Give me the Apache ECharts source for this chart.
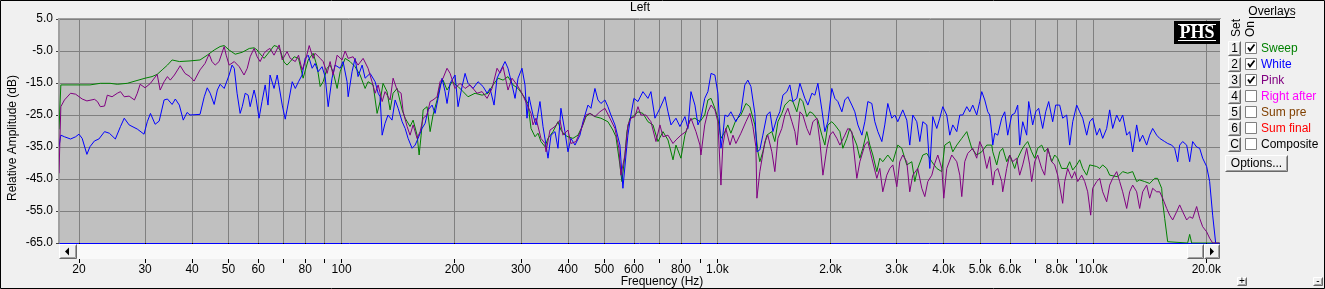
<!DOCTYPE html>
<html><head><meta charset="utf-8">
<script src="https://cdn.jsdelivr.net/npm/echarts@6/dist/echarts.min.js"></script>
<style>html,body{margin:0;padding:0;background:#f0f0f0;}#c{width:1325px;height:289px;}</style>
</head><body><div id="c"></div>
<script>
// ---------- data (frequency in Hz, level in dB) ----------
const sweep = [[17.7,-29.5],[17.9,-15.6],[21.4,-15.6],[22.8,-15.1],[24.2,-15.1],[25.3,-15.4],[26.9,-15.1],[28.2,-14.4],[30.0,-13.5],[31.3,-13.0],[32.3,-12.3],[33.3,-10.9],[34.4,-9.4],[35.4,-7.8],[37.0,-8.3],[39.5,-8.1],[42.0,-7.8],[43.9,-6.3],[45.8,-4.7],[47.5,-3.6],[48.7,-3.3],[50.2,-4.7],[52.1,-6.0],[54.4,-5.4],[56.8,-4.2],[58.5,-4.0],[59.6,-4.7],[60.3,-5.5],[62.2,-7.3],[64.5,-5.0],[66.1,-3.3],[67.4,-3.6],[68.6,-4.7],[70.3,-8.5],[71.6,-9.4],[73.0,-8.3],[74.8,-6.8],[75.3,-6.3],[76.8,-7.3],[79.0,-13.5],[81.5,-7.8],[84.0,-5.7],[86.1,-9.9],[87.7,-16.1],[89.3,-14.6],[91.5,-10.4],[93.2,-9.4],[94.9,-11.5],[97.3,-16.7],[99.1,-11.5],[102.2,-7.3],[105.3,-8.3],[108.6,-9.9],[112,-12.5],[115.5,-16.7],[117.6,-14.6],[121.3,-15.6],[124.3,-24.5],[126.6,-20.8],[128.9,-15.1],[132.1,-17.7],[134.6,-23.4],[137.1,-18.2],[140.5,-16.7],[144.9,-23.4],[147.6,-26],[152.1,-28.6],[155.0,-26.6],[158.8,-31.3],[160.8,-37.5],[162.8,-31.3],[164.8,-23.4],[168.8,-22.4],[172.0,-30.2],[175.1,-25],[179.5,-20.3],[182.8,-15.6],[186.2,-14.1],[190.8,-17.2],[196.8,-14.6],[204.1,-16.1],[210.5,-17.7],[217.0,-19.3],[226.5,-18.2],[236.5,-18.8],[245.3,-18.2],[252.9,-15.6],[260.8,-13.5],[268.9,-14.1],[277.2,-13.0],[285.9,-15.6],[294.8,-16.7],[303.9,-18.8],[313.3,-21.4],[319.2,-29.2],[327.1,-31.8],[333.1,-30.7],[339.2,-33.3],[347.7,-34.9],[354.2,-32.3],[365.2,-30.2],[376.5,-27.1],[383.4,-29.7],[392.9,-31.3],[400.3,-31.8],[412.6,-32.3],[425.6,-31.3],[438.8,-28.1],[447.0,-25.5],[458.1,-24.5],[472.2,-25.5],[489.8,-26.0],[511.3,-27.1],[527.2,-29.7],[537.1,-31.8],[550.3,-40.6],[557.1,-45.8],[567.5,-37.5],[574.4,-30.2],[585.1,-26.0],[596,-25.5],[614.6,-24.0],[633.7,-24.5],[653.4,-27.1],[673.8,-28.1],[694.8,-33.3],[716.5,-30.2],[738.8,-32.8],[761.8,-39],[775.8,-34.4],[799.8,-38.5],[819.6,-31.3],[845.3,-26.6],[871.4,-26],[898.6,-27.1],[925.3,-25],[943.5,-20.3],[961.9,-19.8],[984.8,-22.9],[1003,-26],[1022,-32.3],[1047,-30.2],[1066,-28.1],[1086,-30.7],[1120,-26.6],[1155,-25],[1191,-21.4],[1220,-22.4],[1258,-28.1],[1282,-36.5],[1297,-39.6],[1321,-36.5],[1354,-31.3],[1396,-30.2],[1422,-33.3],[1449,-27.1],[1484,-24.5],[1512,-21.9],[1559,-20.3],[1588,-20.8],[1627,-24.0],[1658,-19.8],[1688,-20.8],[1730,-25.5],[1762,-24],[1795,-24.5],[1851,-26.6],[1897,-31.3],[1932,-34.4],[1968,-28.1],[2016,-27.1],[2054,-28.1],[2118,-30.2],[2157,-35.4],[2210,-32.3],[2251,-29.2],[2293,-31.3],[2350,-34.4],[2394,-38.5],[2438,-35.4],[2498,-30.2],[2545,-34.4],[2592,-37.5],[2656,-42.7],[2705,-38.5],[2755,-39.6],[2841,-37.5],[2930,-39.6],[3020,-34.4],[3095,-35.4],[3191,-40.6],[3291,-39.6],[3352,-45.8],[3413,-41.7],[3521,-37.5],[3608,-37],[3720,-39.6],[3835,-41.7],[3955,-42.7],[4028,-34.4],[4153,-33.3],[4230,-36.5],[4335,-34.4],[4470,-32.3],[4609,-30.2],[4752,-35.4],[4899,-37.5],[5052,-36.5],[5210,-34.4],[5372,-34.4],[5405,-36.5],[5538,-40.6],[5640,-36.5],[5745,-35.4],[5887,-39.6],[5996,-37.5],[6182,-41.7],[6297,-38.5],[6453,-35.9],[6573,-34.4],[6695,-33.3],[6861,-36.5],[6988,-38.5],[7117,-35.4],[7294,-34.4],[7429,-36.5],[7567,-35.4],[7755,-39.6],[7898,-37.5],[8045,-38.5],[8244,-41.7],[8501,-41.7],[8659,-39.6],[8822,-42.2],[9039,-40.6],[9207,-39.0],[9377,-41.7],[9610,-43.8],[9788,-40.6],[10217,-41.1],[10406,-41.7],[10599,-40.6],[10862,-41.7],[11063,-43.8],[11619,-44.3],[11981,-42.7],[12354,-43.2],[12737,-42.7],[13053,-45.8],[13295,-45.3],[13709,-45.8],[14135,-46.4],[14575,-44.8],[14840,-44.8],[15214,-47.9],[15307,-52.1],[15497,-57.3],[15785,-64.6],[15979,-65],[17840,-65],[18061,-62.3],[18283,-65],[21700,-65]];

const white = [[17.7,-34.9],[17.9,-31.3],[18.3,-31.8],[19.0,-32.5],[19.6,-31.8],[20.0,-31.0],[20.4,-32.3],[21.0,-37.3],[21.4,-34.9],[22.0,-33.1],[22.6,-32.5],[23.4,-30.2],[24.1,-30.7],[25.0,-32.5],[25.8,-28.6],[26.4,-26.0],[27.2,-28.1],[28.6,-29.4],[29.8,-31.0],[30.4,-27.1],[31.0,-24.5],[31.9,-27.9],[32.7,-26.9],[33.7,-20.3],[34.4,-20.0],[35.4,-21.7],[36.1,-20.0],[37.0,-21.9],[37.9,-26.6],[38.8,-24.2],[39.5,-25.0],[42.0,-24.8],[43.1,-19.3],[43.9,-16.5],[44.7,-18.2],[45.8,-21.7],[46.7,-17.2],[47.5,-15.4],[48.7,-16.7],[50.2,-12.5],[51.1,-9.4],[51.8,-10.4],[52.7,-18.2],[53.7,-24.5],[54.4,-22.4],[55.4,-18.2],[56.4,-18.8],[57.1,-22.4],[58.5,-17.2],[59.2,-19.8],[60.3,-26.0],[61.4,-20.8],[62.6,-15.6],[63.7,-21.9],[64.5,-12.5],[66.1,-16.7],[67.4,-12.5],[69.5,-21.9],[70.8,-26.3],[72.4,-20.3],[73.9,-14.6],[75.3,-16.7],[76.8,-14.6],[78.5,-12.5],[80.0,-7.3],[81.5,-6.3],[83.5,-10.4],[85.0,-8.9],[86.6,-11.5],[88.7,-9.9],[90.4,-13.0],[92.1,-22.4],[94.3,-13.5],[96.1,-9.4],[99.1,-10.4],[100.9,-8.3],[103.4,-14.6],[104.1,-19.3],[106.6,-11.5],[108.6,-7.3],[110.6,-13.0],[113.4,-9.4],[115.5,-13.5],[119.1,-12],[122.8,-14.6],[125.1,-18.2],[126.6,-19.3],[128.2,-31.3],[130.5,-27.6],[132.9,-25],[136.2,-26.6],[138.8,-20.3],[141.4,-22.9],[144.9,-27.1],[147.6,-29.2],[150.3,-32.3],[154.0,-35.4],[156.9,-34.4],[159.8,-32.3],[163.7,-29.2],[166.8,-27.6],[169.9,-23.4],[174.1,-21.9],[177.3,-24.5],[180.6,-19.8],[185.1,-13.5],[188.5,-17.7],[190.8,-21.4],[194.4,-15.1],[200.4,-12.5],[204.1,-22.4],[209.2,-16.1],[213.1,-12.0],[217.0,-15.1],[223.7,-16.7],[230.7,-14.6],[237.9,-16.1],[243.8,-18.2],[248.3,-16.7],[254.5,-21.9],[259.2,-13.5],[264.0,-11.5],[272.2,-8.3],[277.2,-10.4],[284.1,-15.6],[289.4,-19.8],[294.8,-13.5],[302.0,-10.4],[307.6,-15.6],[311.4,-26.0],[315.3,-19.3],[323.1,-25],[329.1,-28.1],[337.2,-20.8],[343.5,-28.6],[349.9,-34.4],[354.2,-38.5],[360.8,-31.3],[369.7,-30.2],[376.5,-35.4],[383.4,-22.9],[392.9,-30.2],[400.3,-36.5],[407.6,-32.3],[417.9,-34.4],[430.8,-31.3],[438.8,-27.1],[452.5,-21.9],[460.8,-22.9],[472.2,-16.7],[481,-20.3],[489.8,-21.4],[502.0,-20.3],[511.3,-22.4],[520.8,-25],[533.8,-28.1],[550.3,-34.4],[560.5,-47.9],[571.1,-37.5],[577.9,-31.3],[588.7,-25],[599.6,-19.8],[614.6,-20.8],[633.7,-17.7],[653.4,-19.8],[665.5,-17.7],[682.1,-26],[703.2,-22.9],[725.4,-19.3],[738.8,-24],[752.5,-28.1],[775.8,-26],[794.9,-28.6],[819.6,-25.5],[834.9,-29.2],[850.5,-17.7],[871.4,-21.9],[887.7,-28.1],[904.0,-26],[925.3,-19.8],[943.5,-17.7],[961.9,-12],[984.8,-12.5],[1003,-18.2],[1022,-35.4],[1034,-31.3],[1047,-25],[1066,-25.5],[1086,-24],[1120,-27.1],[1155,-24],[1183,-15.6],[1205,-14.1],[1228,-16.1],[1258,-24.5],[1274,-36.5],[1297,-35.9],[1321,-31.3],[1354,-25],[1380,-24],[1405,-30.2],[1440,-26],[1466,-24],[1494,-18.8],[1531,-17.7],[1559,-15.6],[1588,-20.8],[1627,-19.8],[1658,-15.1],[1678,-14.6],[1709,-19.8],[1741,-21.9],[1784,-18.2],[1817,-18.8],[1851,-15.1],[1897,-23.4],[1932,-30.2],[1968,-27.1],[2016,-16.7],[2054,-19.8],[2092,-20.8],[2144,-24],[2183,-20.3],[2224,-19.3],[2279,-21.9],[2321,-24],[2365,-28.1],[2424,-31.3],[2468,-27.1],[2514,-20.8],[2576,-21.4],[2624,-27.1],[2673,-30.2],[2739,-33.3],[2789,-28.1],[2841,-21.4],[2911,-26],[2966,-25],[3020,-27.1],[3114,-23.4],[3191,-26.6],[3250,-34.4],[3311,-25],[3393,-27.1],[3456,-33.3],[3521,-27.1],[3608,-28.1],[3675,-41.7],[3743,-25.5],[3835,-29.2],[3906,-26],[3979,-22.4],[4077,-25],[4153,-31.3],[4230,-28.1],[4335,-30.2],[4416,-25],[4497,-25],[4609,-22.4],[4694,-24],[4781,-21.9],[4899,-25],[4990,-20.8],[5052,-17.7],[5146,-20.3],[5242,-24],[5306,-25],[5372,-30.7],[5405,-34.4],[5470,-30.7],[5572,-31.3],[5710,-26],[5815,-24],[5923,-31.3],[6069,-25],[6182,-24.5],[6297,-21.9],[6374,-34.4],[6494,-27.1],[6654,-31.3],[6736,-20.8],[6902,-28.1],[7031,-24],[7161,-22.9],[7338,-29.2],[7475,-24],[7614,-20.8],[7802,-27.1],[7947,-21.9],[8144,-21.9],[8295,-26],[8501,-25],[8659,-34.4],[8822,-27.1],[9039,-21.9],[9207,-24],[9377,-26],[9610,-31.3],[9788,-27.1],[9969,-26],[10217,-31.3],[10406,-29.2],[10599,-32.3],[10862,-29.2],[11063,-23.4],[11269,-29.2],[11548,-25],[11763,-27.1],[11981,-25],[12278,-31.3],[12505,-30.2],[12737,-36.5],[13053,-28.1],[13295,-33.3],[13541,-31.3],[13878,-34.4],[14135,-31.3],[14397,-29.2],[14755,-31.3],[15029,-32.3],[15497,-33.3],[15785,-33.9],[16176,-34.4],[16475,-35.4],[16780,-39.6],[16987,-34.4],[17302,-33.3],[17732,-34.4],[18061,-39.6],[18395,-33.3],[18851,-35],[19202,-35.4],[19558,-38.5],[20042,-41.1],[20414,-45.8],[20793,-56.3],[21179,-65]];

const pink = [[17.7,-43.2],[17.9,-22.4],[18.3,-20.3],[19.0,-18.2],[19.6,-18.5],[20.4,-20.0],[21.0,-20.6],[22.0,-20.1],[22.4,-20.8],[22.8,-22.4],[23.4,-22.2],[23.8,-18.8],[24.5,-19.3],[25.3,-18.2],[25.8,-17.7],[26.4,-19.3],[27.2,-19.1],[28.1,-20.3],[28.6,-18.2],[29.1,-15.4],[30.0,-16.5],[31.0,-15.1],[32.3,-12.3],[32.9,-17.2],[33.7,-14.6],[34.4,-13.0],[35.0,-14.1],[35.9,-12.5],[37.2,-9.6],[38.3,-12.0],[39.5,-13.0],[40.5,-14.4],[41.3,-12.5],[42.0,-10.9],[43.3,-8.9],[44.4,-6.0],[45.2,-8.3],[46.1,-9.4],[47.2,-8.3],[48.7,-3.6],[49.3,-6.3],[50.2,-9.4],[51.8,-8.3],[53.4,-9.9],[55.0,-12.5],[56.1,-10.4],[57.1,-6.8],[58.5,-4.2],[59.6,-6.8],[60.7,-8.3],[62.2,-5.7],[63.4,-4.7],[64.5,-4.2],[66.1,-6.3],[68.2,-3.1],[69.5,-7.8],[71.6,-5.2],[73.0,-7.3],[75.3,-8.3],[76.8,-6.3],[78.5,-10.9],[80.0,-8.3],[82.0,-3.3],[84.0,-7.3],[85.0,-5.7],[87.7,-7.3],[89.3,-8.3],[91.5,-12.0],[93.2,-8.3],[94.9,-12.5],[97.3,-6.3],[100.3,-7.8],[102.2,-5.0],[104.1,-7.3],[107.3,-6.8],[110.6,-9.4],[114.1,-7.3],[117.6,-10.4],[120.5,-14.6],[122.8,-18.2],[125.1,-15.6],[128.2,-20.8],[130.5,-17.7],[134.6,-20.3],[137.1,-13.5],[140.5,-17.2],[144.0,-18.2],[145.8,-24.0],[149.4,-28.6],[152.1,-31.3],[155.0,-28.1],[158.8,-32.3],[161.8,-30.2],[164.8,-26.0],[168.8,-25.0],[172.0,-20.8],[175.1,-20.3],[179.5,-19.3],[182.8,-14.6],[186.2,-13.5],[190.8,-10.4],[194.4,-12.0],[200.4,-16.7],[206.6,-15.1],[213.1,-16.7],[219.7,-15.6],[229.3,-18.2],[236.5,-17.7],[243.8,-19.8],[251.4,-16.7],[259.2,-10.4],[264.0,-11.9],[268.9,-9.9],[277.2,-17.2],[284.1,-13.5],[293,-15.6],[302.0,-18.2],[313.3,-22.4],[319.2,-24.5],[323.1,-28.1],[329.1,-26.0],[339.2,-32.3],[347.7,-33.9],[349.9,-36.5],[358.6,-29.7],[369.7,-28.6],[381.1,-26.6],[388.2,-31.3],[400.3,-29.7],[407.6,-33.9],[420.3,-33.3],[433.5,-29.7],[447.0,-25.0],[458.1,-24.5],[472.2,-25.5],[486.8,-24.0],[502.0,-22.9],[517.6,-26],[533.8,-29.2],[546.9,-35.4],[553.7,-43.8],[567.5,-37.5],[577.9,-28.1],[588.7,-26.0],[603.2,-25.5],[614.6,-22.4],[625.8,-25],[645.4,-25],[665.5,-27.1],[686.3,-33.3],[703.2,-28.1],[716.5,-31.8],[738.8,-31.3],[761.8,-33.9],[775.8,-32.8],[799.8,-31.3],[824.6,-30.2],[850.5,-26],[876.9,-30.2],[898.6,-34.4],[904.0,-37.5],[925.3,-28.1],[943.5,-24],[961.9,-21.9],[984.8,-23.4],[1003,-27.1],[1022,-46.9],[1034,-34.4],[1053,-29.2],[1080,-34.4],[1100,-31.3],[1120,-33.9],[1155,-30.7],[1191,-27.1],[1220,-24.5],[1243,-28.6],[1266,-34.9],[1274,-51.0],[1297,-42.7],[1338,-33.3],[1362,-31.3],[1396,-36.5],[1422,-42.7],[1449,-32.3],[1484,-29.2],[1512,-25],[1540,-22.9],[1579,-27.1],[1608,-30.2],[1627,-34.4],[1658,-24],[1688,-25],[1730,-29.2],[1762,-31.3],[1795,-27.1],[1840,-26],[1874,-33.3],[1909,-43.8],[1956,-35.4],[1992,-31.3],[2029,-30.2],[2079,-32.3],[2118,-34.4],[2183,-31.3],[2224,-29.2],[2279,-30.2],[2350,-44.8],[2394,-39.6],[2468,-34.4],[2514,-33.3],[2576,-38.5],[2656,-44.8],[2705,-41.7],[2755,-49],[2823,-43.8],[2876,-41.7],[2930,-40.6],[3002,-47.4],[3057,-39.6],[3114,-37.5],[3191,-39.6],[3250,-49],[3311,-43.8],[3413,-41.7],[3499,-47.9],[3564,-50.5],[3630,-45.8],[3720,-43.8],[3789,-40.1],[3859,-37.5],[3955,-41.7],[4003,-51],[4077,-41.7],[4204,-37.5],[4335,-39.6],[4416,-43.8],[4470,-50.5],[4552,-39.6],[4637,-37],[4781,-35.4],[4899,-38.5],[4990,-33.3],[5083,-35.4],[5210,-41.7],[5306,-38],[5405,-46.9],[5470,-42.7],[5572,-41.7],[5710,-45.8],[5745,-49],[5887,-41.7],[5996,-37.5],[6107,-39.6],[6258,-38.5],[6374,-43.8],[6494,-40.6],[6654,-35.4],[6777,-40.6],[6861,-45.8],[6988,-39.6],[7117,-37.5],[7294,-41.7],[7429,-43.8],[7567,-35.4],[7755,-39.6],[7898,-40.6],[8045,-43.8],[8295,-52.6],[8398,-45.8],[8553,-41.7],[8768,-44.8],[8929,-42.7],[9095,-45.8],[9320,-43.8],[9493,-45.8],[9669,-49],[9848,-56.3],[9969,-47.9],[10217,-45.8],[10406,-44.8],[10599,-49],[10862,-52.1],[11063,-46.9],[11269,-44.8],[11548,-42.7],[11763,-45.8],[11981,-49],[12278,-54.2],[12505,-49],[12737,-46.9],[13053,-49],[13295,-54.2],[13541,-49],[13878,-46.9],[14135,-51],[14397,-47.9],[14755,-49],[15029,-49],[15307,-51],[15688,-54.2],[15979,-56.3],[16276,-57.8],[16680,-55.2],[16987,-53.1],[17302,-55.2],[17732,-57.8],[18061,-56.8],[18395,-57.3],[18851,-53.6],[19202,-57.3],[19558,-59.9],[20042,-61.5],[20414,-63.5],[20793,-65],[21700,-65]];

// ---------- axis ticks ----------
const tickHz = [20,30,40,50,60,70,80,90,100,200,300,400,500,600,700,800,900,1000,2000,3000,4000,5000,6000,7000,8000,9000,10000,20000];
const labelHz = [20,30,40,50,60,80,100,200,300,400,500,600,800,1000,2000,3000,4000,5000,6000,8000,10000,20000];
const dbTicks = [-65,-55,-45,-35,-25,-15,-5,5];

// ---------- overlay panel ----------
const overlayKeys = ['1','2','3','4','5','6','C'];
const overlayNames = ['Sweep','White','Pink','Right after','Sum pre','Sum final','Composite'];
const overlayColors = ['#008000','#0000ff','#800080','#ff00ff','#804000','#ff0000','#000000'];
const overlayOn = [true,true,true,false,false,false,false];

const FONT = '"Liberation Sans", Arial, sans-serif';
const fmtHz = v => { const r = Math.round(v); return r >= 1000 ? (r/1000).toFixed(1) + 'k' : String(r); };

function bevel(x, y, w, h, z) {
  return [
    {type:'rect', z:z, shape:{x:x, y:y, width:w, height:h}, style:{fill:'#f0f0f0'}},
    {type:'polyline', z:z, shape:{points:[[x+0.5,y+h-0.5],[x+0.5,y+0.5],[x+w-0.5,y+0.5]]}, style:{stroke:'#ffffff', fill:null, lineWidth:1}},
    {type:'polyline', z:z, shape:{points:[[x+0.5,y+h-0.5],[x+w-0.5,y+h-0.5],[x+w-0.5,y+0.5]]}, style:{stroke:'#696969', fill:null, lineWidth:1}},
    {type:'polyline', z:z, shape:{points:[[x+1.5,y+h-1.5],[x+w-1.5,y+h-1.5],[x+w-1.5,y+1.5]]}, style:{stroke:'#a0a0a0', fill:null, lineWidth:1}}
  ];
}

const g = [];
// plot frame accents
g.push({type:'line', z:5, shape:{x1:58, y1:18.5, x2:1221, y2:18.5}, style:{stroke:'#a0a0a0', lineWidth:1}});
g.push({type:'line', z:5, shape:{x1:58.5, y1:18, x2:58.5, y2:243}, style:{stroke:'#a0a0a0', lineWidth:1}});
// scrollbar (covers the upper part of the long axis ticks)
g.push({type:'rect', z:5, shape:{x:59, y:244, width:1161, height:15}, style:{fill:'#f9f9f9'}});
g.push(...bevel(59, 244, 18, 15, 6));
g.push({type:'polygon', z:7, shape:{points:[[65,251.5],[69,247.5],[69,255.5]]}, style:{fill:'#000'}});
g.push(...bevel(1187, 244, 17, 15, 6));
g.push(...bevel(1204, 244, 16, 15, 6));
g.push({type:'polygon', z:7, shape:{points:[[1214,251.5],[1210,247.5],[1210,255.5]]}, style:{fill:'#000'}});
// y axis title
g.push({type:'text', z:10, x:13, y:138, rotation:Math.PI/2, style:{text:'Relative Amplitude (dB)', fill:'#000', font:'12px ' + FONT, textAlign:'center', textVerticalAlign:'middle'}});
// PHS logo
g.push({type:'rect', z:10, shape:{x:1174, y:21, width:46, height:23}, style:{fill:'#000'}});
g.push({type:'text', z:11, x:1197, y:33, style:{text:'PHS', fill:'#fff', font:'bold 18px "Liberation Serif", "Times New Roman", serif', textAlign:'center', textVerticalAlign:'middle'}});
g.push({type:'line', z:11, shape:{x1:1178, y1:24.5, x2:1216, y2:24.5}, style:{stroke:'#fff', lineWidth:1}});
g.push({type:'line', z:11, shape:{x1:1178, y1:40.5, x2:1216, y2:40.5}, style:{stroke:'#fff', lineWidth:1}});
// Overlays header
g.push({type:'text', z:10, x:1272, y:12, style:{text:'Overlays', fill:'#000', font:'12px ' + FONT, textAlign:'center', textVerticalAlign:'middle'}});
g.push({type:'line', z:10, shape:{x1:1249, y1:17.5, x2:1295, y2:17.5}, style:{stroke:'#000', lineWidth:1}});
g.push({type:'text', z:10, x:1236.5, y:37, rotation:Math.PI/2, style:{text:'Set', fill:'#000', font:'12px ' + FONT, textAlign:'left', textVerticalAlign:'middle'}});
g.push({type:'text', z:10, x:1251, y:37, rotation:Math.PI/2, style:{text:'On', fill:'#000', font:'12px ' + FONT, textAlign:'left', textVerticalAlign:'middle'}});
overlayKeys.forEach((k, i) => {
  const cy = 48 + 16 * i;
  g.push(...bevel(1228, cy - 7, 13, 15, 10));
  g.push({type:'text', z:11, x:1234.5, y:cy + 0.5, style:{text:k, fill:'#000', font:'12px ' + FONT, textAlign:'center', textVerticalAlign:'middle'}});
  g.push({type:'rect', z:10, shape:{x:1245.5, y:cy - 5.5, width:11, height:11}, style:{fill:'#fff', stroke:'#808080', lineWidth:1}});
  if (overlayOn[i]) {
    g.push({type:'polyline', z:11, shape:{points:[[1248, cy - 0.5],[1250, cy + 2.5],[1254.5, cy - 3.5]]}, style:{stroke:'#000', fill:null, lineWidth:1.8}});
  }
  g.push({type:'text', z:10, x:1261, y:cy + 0.5, style:{text:overlayNames[i], fill:overlayColors[i], font:'12px ' + FONT, textAlign:'left', textVerticalAlign:'middle'}});
});
g.push(...bevel(1225, 155, 63, 17, 10));
g.push({type:'text', z:11, x:1256.5, y:163.5, style:{text:'Options...', fill:'#000', font:'12px ' + FONT, textAlign:'center', textVerticalAlign:'middle'}});
g.push(...bevel(1237, 277, 10, 9, 10));
g.push({type:'text', z:11, x:1242, y:281.5, style:{text:'+', fill:'#000', font:'10px ' + FONT, textAlign:'center', textVerticalAlign:'middle'}});
g.push(...bevel(1313, 277, 10, 9, 10));
g.push({type:'text', z:11, x:1318, y:281, style:{text:'-', fill:'#000', font:'10px ' + FONT, textAlign:'center', textVerticalAlign:'middle'}});
// window frame
g.push({type:'rect', z:20, shape:{x:0.5, y:0.5, width:1324, height:288}, style:{fill:null, stroke:'#000', lineWidth:1}});

const splitColors = dbTicks.map((v, i) => i === 0 ? '#0000ff' : '#808080');

const chart = echarts.init(document.getElementById('c'), null, {renderer:'canvas'});
chart.setOption({
  backgroundColor:'#f0f0f0',
  animation:false,
  title:{text:'Left', left:630, top:2, padding:0, textStyle:{fontSize:12, fontWeight:'normal', color:'#000', fontFamily:FONT}},
  grid:{left:59, right:105, top:19, height:224, show:true, backgroundColor:'#c0c0c0', borderWidth:0, containLabel:false, outerBoundsMode:'none'},
  xAxis:{
    type:'log', logBase:10, min:17.7, max:21750,
    axisLine:{show:false, onZero:false},
    axisTick:{show:true, length:20, customValues:tickHz, lineStyle:{color:'#000'}},
    axisLabel:{customValues:labelHz, formatter:fmtHz, margin:21, color:'#000', fontSize:12, fontFamily:FONT},
    splitLine:{show:true, lineStyle:{color:'#808080', width:1}},
    minorTick:{show:false}, minorSplitLine:{show:false},
    name:'Frequency (Hz)', nameLocation:'middle', nameGap:33, nameMoveOverlap:false,
    nameTextStyle:{color:'#000', fontSize:12, fontFamily:FONT, padding:[0,0,0,45]}
  },
  yAxis:{
    type:'value', min:-65, max:5,
    axisLine:{show:true, lineStyle:{color:'#a0a0a0', width:1}},
    axisTick:{show:true, length:3, customValues:dbTicks, lineStyle:{color:'#404040'}},
    axisLabel:{customValues:dbTicks, formatter:v => v.toFixed(1), margin:6, color:'#000', fontSize:12, fontFamily:FONT},
    splitLine:{show:true, lineStyle:{color:splitColors, width:1}}
  },
  series:[
    {name:'Sweep', type:'line', data:sweep, symbol:'none', showSymbol:false, z:3, lineStyle:{color:'#008000', width:1}, itemStyle:{color:'#008000'}},
    {name:'White', type:'line', data:white, symbol:'none', showSymbol:false, z:3, lineStyle:{color:'#0000ff', width:1}, itemStyle:{color:'#0000ff'}},
    {name:'Pink', type:'line', data:pink, symbol:'none', showSymbol:false, z:3, lineStyle:{color:'#800080', width:1}, itemStyle:{color:'#800080'}}
  ],
  graphic:{elements:g}
});
</script></body></html>
